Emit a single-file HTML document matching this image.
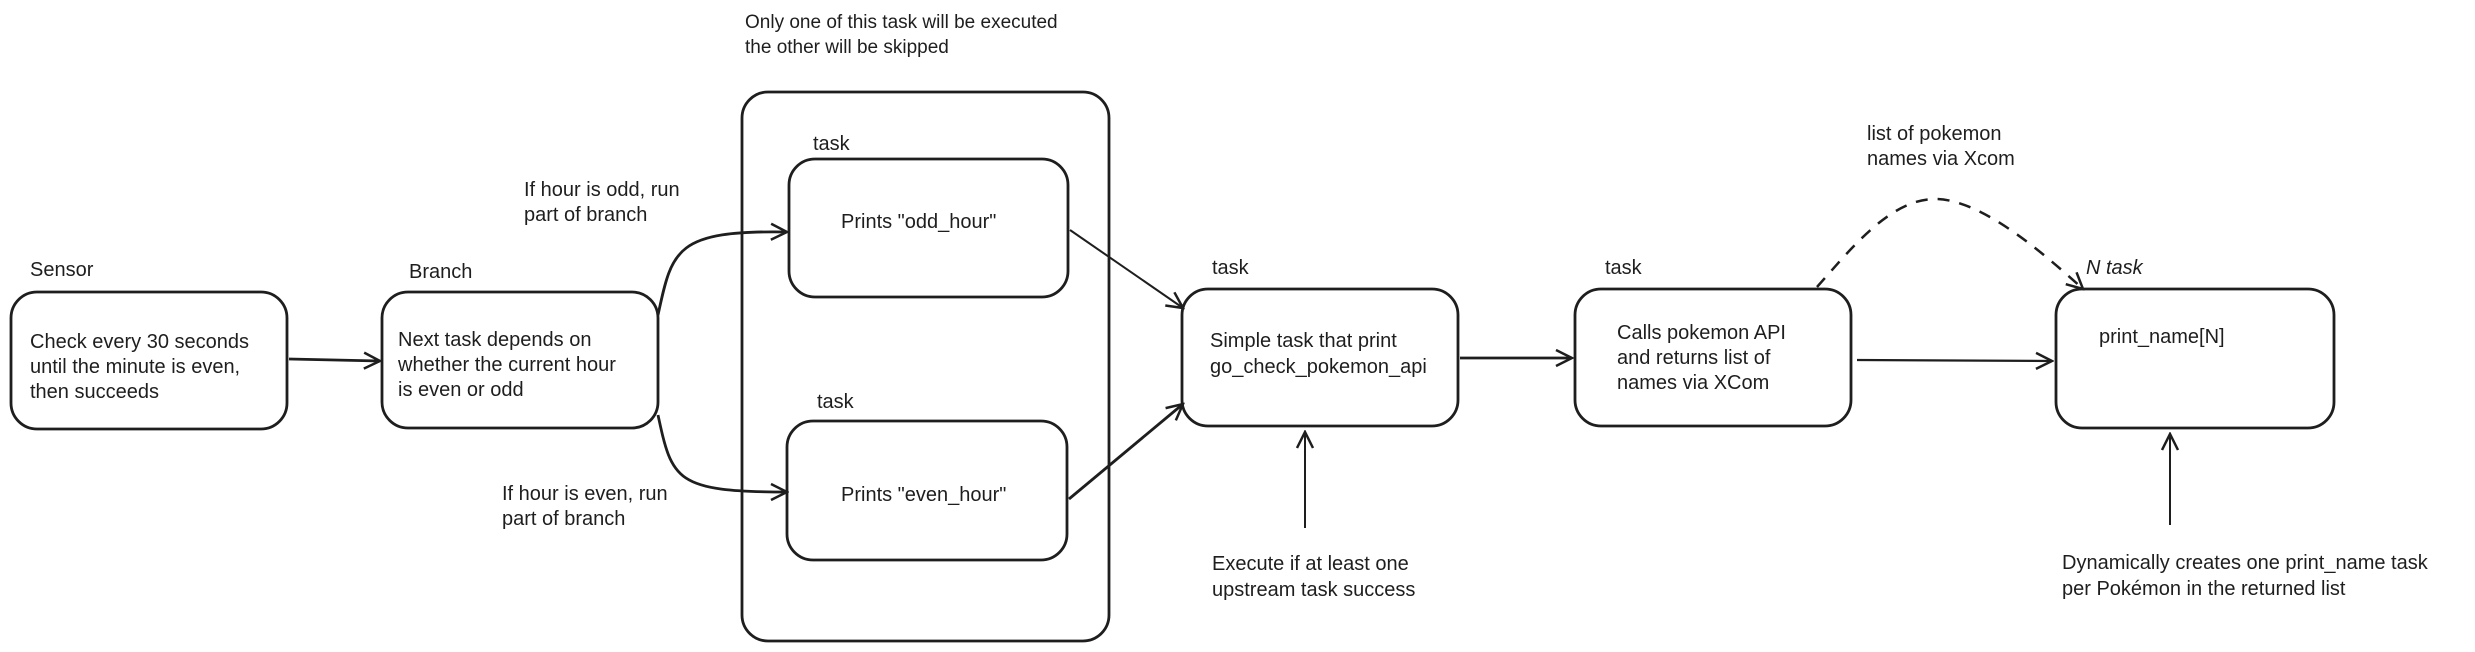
<!DOCTYPE html>
<html><head><meta charset="utf-8"><style>
html,body{margin:0;padding:0;background:#fff;}
svg{display:block;}
text{font-family:"Liberation Sans",sans-serif;font-size:20px;fill:#1e1e1e;}
</style></head><body>
<svg width="2475" height="652" viewBox="0 0 2475 652" xmlns="http://www.w3.org/2000/svg">
<defs>
<marker id="ah" markerWidth="20" markerHeight="20" refX="18" refY="10" orient="auto" markerUnits="userSpaceOnUse">
<path d="M2,2 L18,10 L2,18" fill="none" stroke="#1e1e1e" stroke-width="2.5"/>
</marker>
</defs>
<g fill="none" stroke="#1e1e1e" stroke-width="2.8">
<rect x="11" y="292" width="276" height="137" rx="26"/>
<rect x="382" y="292" width="276" height="136" rx="26"/>
<rect x="742" y="92" width="367" height="549" rx="26"/>
<rect x="789" y="159" width="279" height="138" rx="26"/>
<rect x="787" y="421" width="280" height="139" rx="26"/>
<rect x="1182" y="289" width="276" height="137" rx="26"/>
<rect x="1575" y="289" width="276" height="137" rx="26"/>
<rect x="2056" y="289" width="278" height="139" rx="26"/>
</g>
<g fill="none" stroke="#1e1e1e" stroke-width="2.8" marker-end="url(#ah)">
<path d="M289,359 L380,361"/>
<path d="M658,315 C672,250 675,230 787,232"/>
<path d="M658,415 C672,480 675,492 787,492"/>
<path d="M1070,230 L1183,308" stroke-width="2"/>
<path d="M1069,499 L1183,404"/>
<path d="M1460,358 L1572,358"/>
<path d="M1857,360 L2052,361" stroke-width="2.2"/>
<path d="M1305,528 L1305,432" stroke-width="2"/>
<path d="M2170,525 L2170,434" stroke-width="2"/>
<path d="M1817,287 C1850,250 1890,199 1935,199 C1980,199 2040,250 2083,289" stroke-dasharray="12,10" stroke-width="2.5"/>
</g>
<text x="30" y="276">Sensor</text>
<text x="30" y="348">Check every 30 seconds</text>
<text x="30" y="373">until the minute is even,</text>
<text x="30" y="398">then succeeds</text>
<text x="409" y="278">Branch</text>
<text x="398" y="346">Next task depends on</text>
<text x="398" y="371">whether the current hour</text>
<text x="398" y="396">is even or odd</text>
<text x="745" y="28" style="font-size:19px">Only one of this task will be executed</text>
<text x="745" y="53" style="font-size:19px">the other will be skipped</text>
<text x="524" y="196">If hour is odd, run</text>
<text x="524" y="221">part of branch</text>
<text x="502" y="500">If hour is even, run</text>
<text x="502" y="525">part of branch</text>
<text x="813" y="150">task</text>
<text x="841" y="228">Prints "odd_hour"</text>
<text x="817" y="408">task</text>
<text x="841" y="501">Prints "even_hour"</text>
<text x="1212" y="274">task</text>
<text x="1210" y="347">Simple task that print</text>
<text x="1210" y="373">go_check_pokemon_api</text>
<text x="1212" y="570">Execute if at least one</text>
<text x="1212" y="596">upstream task success</text>
<text x="1605" y="274">task</text>
<text x="1617" y="339">Calls pokemon API</text>
<text x="1617" y="364">and returns list of</text>
<text x="1617" y="389">names via XCom</text>
<text x="1867" y="140">list of pokemon</text>
<text x="1867" y="165">names via Xcom</text>
<text x="2086" y="274" font-style="italic">N task</text>
<text x="2099" y="343">print_name[N]</text>
<text x="2062" y="569">Dynamically creates one print_name task</text>
<text x="2062" y="595">per Pokémon in the returned list</text>
</svg>
</body></html>
